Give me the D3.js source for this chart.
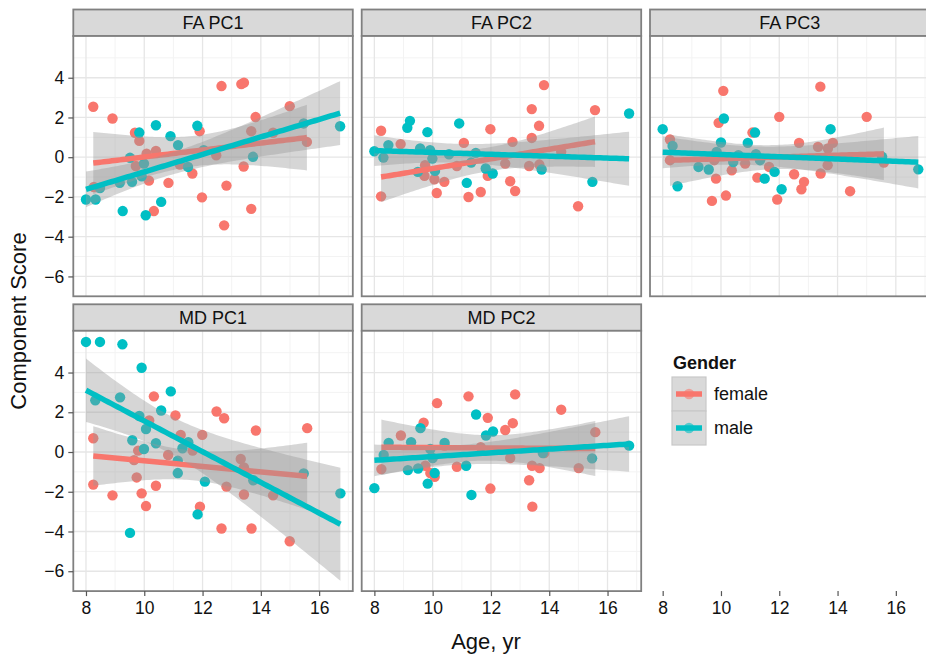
<!DOCTYPE html>
<html>
<head>
<meta charset="utf-8">
<script src="https://cdn.jsdelivr.net/npm/d3@7.9.0/dist/d3.min.js"></script>
<style>
  body { margin: 0; background: #fff; }
  svg { display: block; font-family: "Liberation Sans", Arial, Helvetica, sans-serif; }
</style>
</head>
<body>
<div id="chart"></div>
<script>
// points: [age, score]
const faPC1Female = [[8.25,2.54],[8.27,-1.5],[8.91,1.95],[9.68,1.23],[9.71,-0.44],[9.83,0.82],[10.08,0.18],[10.16,-1.18],[10.33,-2.71],[10.40,0.32],[10.83,-1.29],[11.22,-0.37],[11.65,-0.82],[11.90,1.31],[11.98,-2.02],[12.47,0.10],[12.65,3.58],[12.74,-3.43],[12.82,-1.43],[13.33,3.68],[13.42,3.75],[13.41,-0.47],[13.67,1.31],[13.67,-2.6],[13.82,2.02],[14.42,1.23],[14.99,2.57],[15.58,0.77]];
const faPC1Male = [[8.0,-2.13],[8.33,-2.13],[8.48,-1.55],[9.16,-1.29],[9.26,-2.71],[9.51,-0.03],[9.58,-1.24],[9.83,1.24],[9.91,-0.96],[9.99,-0.32],[10.05,-2.92],[10.40,1.61],[10.58,-2.25],[10.90,1.06],[11.16,0.61],[11.50,-0.49],[11.82,1.58],[12.04,0.35],[13.73,0.02],[15.47,1.70],[16.72,1.56]];

const faPC2Female = [[8.23,1.33],[8.23,-1.97],[8.90,0.66],[9.74,-0.40],[9.72,-0.94],[10.06,-1.11],[10.14,-1.80],[10.40,-1.24],[10.83,-0.44],[11.07,0.72],[11.23,-2.0],[11.65,-1.75],[11.89,-0.94],[11.98,1.41],[12.49,-0.32],[12.66,-1.21],[12.74,0.77],[12.83,-1.70],[13.31,-0.44],[13.40,2.42],[13.40,0.97],[13.65,1.58],[13.66,-0.37],[13.82,3.63],[14.41,0.27],[14.99,-2.47],[15.57,2.37]];
const faPC2Male = [[8.0,0.30],[8.31,-0.02],[8.48,0.61],[9.13,1.48],[9.22,1.83],[9.49,-0.74],[9.57,0.44],[9.82,1.26],[9.91,0.35],[9.99,-0.07],[10.08,-0.69],[10.56,0.15],[10.91,1.70],[11.17,-1.29],[11.32,-0.27],[11.48,0.22],[11.82,-0.57],[12.06,-0.82],[13.74,-0.62],[15.48,-1.24],[16.74,2.20]];

const faPC3Female = [[8.25,0.89],[8.25,-0.15],[9.69,-2.20],[9.77,-0.15],[9.83,-1.08],[9.92,1.73],[10.08,3.34],[10.17,-1.93],[10.37,-0.66],[10.83,-0.32],[11.08,1.24],[11.25,-1.03],[11.65,-0.49],[11.93,-2.13],[12.0,2.03],[12.51,-0.86],[12.68,0.72],[12.76,-1.61],[12.85,-1.24],[13.33,0.52],[13.41,3.55],[13.42,-0.82],[13.66,-0.40],[13.67,0.44],[13.84,0.72],[14.43,-1.71],[15.0,2.03],[15.59,-0.27]];
const faPC3Male = [[8.0,1.41],[8.34,0.57],[8.51,-1.46],[9.23,-0.49],[9.58,-0.62],[9.85,0.27],[10.0,0.74],[10.10,1.95],[10.42,-0.24],[10.60,0.10],[10.92,0.72],[11.17,1.24],[11.20,0.15],[11.34,-0.15],[11.5,-1.08],[11.84,-0.74],[12.08,-1.61],[13.76,1.41],[15.53,0.02],[16.77,-0.61]];

const mdPC1Female = [[8.25,0.69],[8.25,-1.64],[8.91,-2.18],[9.65,-0.41],[9.74,-1.28],[9.79,0.07],[9.91,-2.08],[10.06,-2.72],[10.17,1.59],[10.33,2.80],[10.40,-1.70],[10.82,-0.15],[11.07,1.84],[11.25,0.86],[11.66,0.07],[11.91,-2.75],[11.99,0.86],[12.48,2.04],[12.65,-3.85],[12.74,1.70],[12.82,-1.74],[13.31,-0.35],[13.42,-0.78],[13.42,-2.14],[13.68,-3.85],[13.83,1.08],[14.42,-2.18],[14.99,-4.49],[15.59,1.20]];
const mdPC1Male = [[8.0,5.54],[8.48,5.54],[9.25,5.42],[8.32,2.60],[9.17,2.75],[9.59,0.59],[9.83,1.81],[9.91,4.24],[9.99,0.15],[10.06,1.16],[9.51,-4.07],[10.40,0.44],[10.58,2.09],[10.91,3.05],[11.15,-0.44],[11.15,-1.06],[11.31,0.19],[11.51,0.49],[12.08,-1.49],[11.83,-3.14],[13.74,-1.42],[15.47,-1.08],[16.73,-2.08]];

const mdPC2Female = [[8.24,-0.86],[8.91,0.83],[9.69,1.47],[9.75,-0.69],[9.92,-1.06],[10.07,-1.25],[10.15,2.46],[10.41,0.32],[10.83,-0.74],[11.23,2.80],[11.65,0.24],[11.89,1.72],[11.98,-1.84],[12.49,1.11],[12.66,-0.30],[12.75,1.45],[12.83,2.90],[13.31,-1.42],[13.41,-0.69],[13.42,-2.75],[13.67,-0.81],[13.83,-0.05],[14.41,2.13],[15.01,-0.81],[15.58,1.0]];
const mdPC2Male = [[8.0,-1.82],[8.32,-0.15],[8.49,0.46],[9.15,-0.91],[9.26,0.49],[9.50,-0.83],[9.58,1.20],[9.83,-1.59],[9.92,0.15],[10.0,-0.30],[10.07,-1.06],[10.41,0.46],[11.15,-0.69],[11.33,-2.16],[11.49,1.89],[11.83,0.83],[12.07,1.03],[13.78,-0.05],[15.47,-0.32],[16.74,0.32]];

const panelNames = ['FA PC1', 'FA PC2', 'FA PC3', 'MD PC1', 'MD PC2'];
const panelData = [
  [faPC1Female, faPC1Male],
  [faPC2Female, faPC2Male],
  [faPC3Female, faPC3Male],
  [mdPC1Female, mdPC1Male],
  [mdPC2Female, mdPC2Male],
];
const genders = ['female', 'male'];
const genderColors = ['#F8766D', '#00BFC4'];
const xTicks = [8, 10, 12, 14, 16];
const xMinor = [9, 11, 13, 15, 17];
const yTicks = [-6, -4, -2, 0, 2, 4];
const yMinor = [-5, -3, -1, 1, 3, 5];

const width = 926, height = 659;
const colX = [73.3, 361.7, 650];
const stripTop = [9.5, 304.3];
const stripH = 26.5;
const panelW = 279.5, panelH = 260.3;

const x = d3.scaleLinear().domain([7.565, 17.155]).range([0, panelW]);
const y = d3.scaleLinear().domain([-7.0, 6.1]).range([panelH, 0]);

// t quantile (0.975) approximation for the confidence band
function tq(df) {
  const z = 1.959964;
  const g1 = (z ** 3 + z) / 4;
  const g2 = (5 * z ** 5 + 16 * z ** 3 + 3 * z) / 96;
  const g3 = (3 * z ** 7 + 19 * z ** 5 + 17 * z ** 3 - 15 * z) / 384;
  return z + g1 / df + g2 / df ** 2 + g3 / df ** 3;
}

function fitLm(pts) {
  const n = pts.length;
  const mx = d3.mean(pts, d => d[0]);
  const my = d3.mean(pts, d => d[1]);
  const sxx = d3.sum(pts, d => (d[0] - mx) ** 2);
  const sxy = d3.sum(pts, d => (d[0] - mx) * (d[1] - my));
  const b = sxy / sxx;
  const a = my - b * mx;
  const sse = d3.sum(pts, d => (d[1] - a - b * d[0]) ** 2);
  const s = Math.sqrt(sse / (n - 2));
  const t = tq(n - 2);
  const [x0, x1] = d3.extent(pts, d => d[0]);
  return d3.range(81).map(i => {
    const xv = x0 + (x1 - x0) * i / 80;
    const fit = a + b * xv;
    const se = s * Math.sqrt(1 / n + (xv - mx) ** 2 / sxx);
    return { x: xv, fit, lo: fit - t * se, hi: fit + t * se };
  });
}

const svg = d3.select('#chart').append('svg').attr('width', width).attr('height', height);

panelNames.forEach((name, i) => {
  const col = i % 3, row = Math.floor(i / 3);
  const px = colX[col], sy = stripTop[row], py = sy + stripH;

  // strip
  svg.append('rect').attr('x', px).attr('y', sy).attr('width', panelW).attr('height', stripH)
    .attr('fill', '#D9D9D9').attr('stroke', '#808080').attr('stroke-width', 1.8);
  svg.append('text').attr('x', px + panelW / 2).attr('y', sy + stripH / 2 + 6.5)
    .attr('text-anchor', 'middle').attr('font-size', 18).attr('fill', '#111').text(name);

  const g = svg.append('g').attr('transform', `translate(${px},${py})`);
  g.append('rect').attr('width', panelW).attr('height', panelH).attr('fill', '#fff');

  const clipId = 'clip' + i;
  g.append('clipPath').attr('id', clipId).append('rect').attr('width', panelW).attr('height', panelH);
  const inner = g.append('g').attr('clip-path', `url(#${clipId})`);

  inner.selectAll('.ymin').data(yMinor).join('line')
    .attr('x1', 0).attr('x2', panelW).attr('y1', d => y(d)).attr('y2', d => y(d))
    .attr('stroke', '#F3F3F3').attr('stroke-width', 1);
  inner.selectAll('.xmin').data(xMinor).join('line')
    .attr('y1', 0).attr('y2', panelH).attr('x1', d => x(d)).attr('x2', d => x(d))
    .attr('stroke', '#F3F3F3').attr('stroke-width', 1);
  inner.selectAll('.ymaj').data(yTicks).join('line')
    .attr('x1', 0).attr('x2', panelW).attr('y1', d => y(d)).attr('y2', d => y(d))
    .attr('stroke', '#E6E6E6').attr('stroke-width', 1.3);
  inner.selectAll('.xmaj').data(xTicks).join('line')
    .attr('y1', 0).attr('y2', panelH).attr('x1', d => x(d)).attr('x2', d => x(d))
    .attr('stroke', '#E6E6E6').attr('stroke-width', 1.3);

  const groups = panelData[i];
  groups.forEach((pts, k) => {
    inner.append('g').selectAll('circle').data(pts).join('circle')
      .attr('cx', d => x(d[0])).attr('cy', d => y(d[1])).attr('r', 5.2)
      .attr('fill', genderColors[k]);
  });
  groups.forEach((pts, k) => {
    const band = fitLm(pts);
    inner.append('path').datum(band)
      .attr('d', d3.area().x(d => x(d.x)).y0(d => y(d.lo)).y1(d => y(d.hi)))
      .attr('fill', '#999999').attr('fill-opacity', 0.4);
    inner.append('path').datum(band)
      .attr('d', d3.line().x(d => x(d.x)).y(d => y(d.fit)))
      .attr('fill', 'none').attr('stroke', genderColors[k]).attr('stroke-width', 5.5);
  });

  g.append('rect').attr('width', panelW).attr('height', panelH)
    .attr('fill', 'none').attr('stroke', '#808080').attr('stroke-width', 1.8);

  if (col === 0) {
    const ya = g.append('g').call(d3.axisLeft(y).tickValues(yTicks).tickSize(5).tickPadding(4));
    ya.select('.domain').remove();
    ya.selectAll('line').attr('stroke', '#555').attr('stroke-width', 1.2);
    ya.selectAll('text').attr('font-size', 17.5).attr('fill', '#111')
      .attr('font-family', '"Liberation Sans", Arial, sans-serif');
  }
});

// bottom x axes for each column
colX.forEach(cx => {
  const xa = svg.append('g').attr('transform', `translate(${cx},${stripTop[1] + stripH + panelH})`)
    .call(d3.axisBottom(x).tickValues(xTicks).tickSize(5).tickPadding(5));
  xa.select('.domain').remove();
  xa.selectAll('line').attr('stroke', '#555').attr('stroke-width', 1.2);
  xa.selectAll('text').attr('font-size', 17.5).attr('fill', '#111')
    .attr('font-family', '"Liberation Sans", Arial, sans-serif');
});

// axis titles
svg.append('text').attr('x', 486).attr('y', 649)
  .attr('text-anchor', 'middle').attr('font-size', 22).attr('fill', '#111').text('Age, yr');
svg.append('text').attr('transform', 'translate(26,321) rotate(-90)')
  .attr('text-anchor', 'middle').attr('font-size', 22).attr('fill', '#111').text('Component Score');

// legend
const lg = svg.append('g').attr('transform', 'translate(672,369)');
lg.append('text').attr('x', 1).attr('y', 0).attr('font-size', 18).attr('font-weight', 'bold')
  .attr('fill', '#111').text('Gender');
genders.forEach((gname, k) => {
  const ky = 8 + k * 34;
  lg.append('rect').attr('x', 0).attr('y', ky).attr('width', 34).attr('height', 34)
    .attr('fill', '#D9D9D9').attr('stroke', '#C8C8C8').attr('stroke-width', 1.2);
  lg.append('line').attr('x1', 4).attr('x2', 30).attr('y1', ky + 17).attr('y2', ky + 17)
    .attr('stroke', genderColors[k]).attr('stroke-width', 5.5);
  lg.append('circle').attr('cx', 17).attr('cy', ky + 17).attr('r', 5.2)
    .attr('fill', genderColors[k]).attr('fill-opacity', 0.6);
  lg.append('text').attr('x', 42).attr('y', ky + 17).attr('dy', '0.35em')
    .attr('font-size', 18).attr('fill', '#111').text(gname);
});
</script>
</body>
</html>
